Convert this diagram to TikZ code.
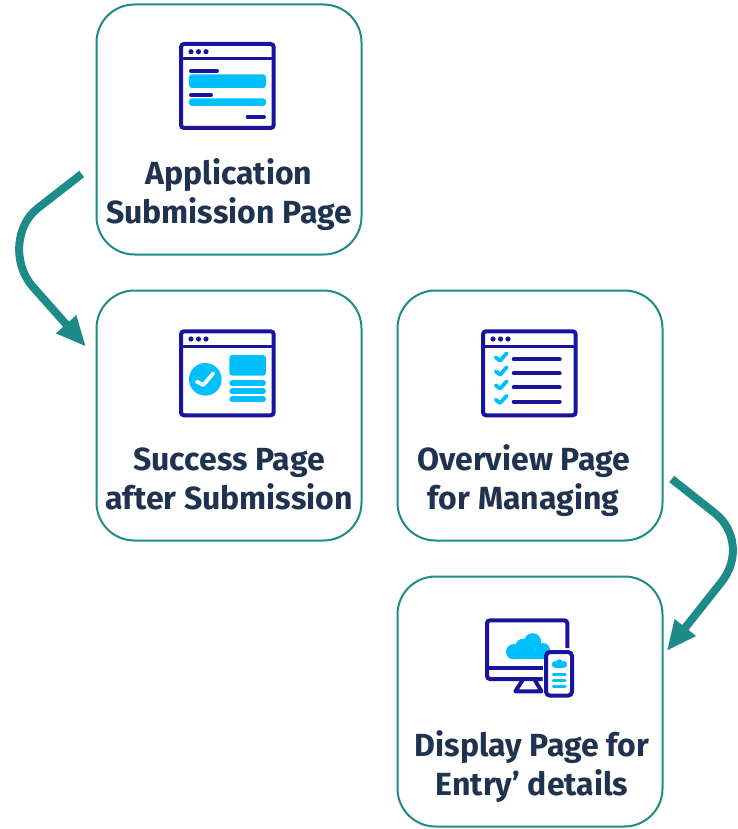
\documentclass[tikz,border=0pt]{standalone}
\usepackage{xcolor}
\usepackage{fontspec}
\setmainfont{Fira Sans}
\usetikzlibrary{arrows.meta,calc}

\definecolor{tealline}{HTML}{1D8C88}
\definecolor{navyline}{HTML}{1A139B}
\definecolor{skyfill}{HTML}{00BFFF}
\definecolor{inktext}{HTML}{1F3350}

% browser window outline
\newcommand{\browserframe}{%
	\draw[navyline, line width=4pt, rounded corners=3pt] (2,2) rectangle (94.7,86);
	\draw[navyline, line width=3pt] (2,17) -- (94.7,17);
	\foreach \dotx in {12,19.5,27} {
		\fill[navyline] (\dotx,9.7) circle (2.6);
	}
}

\begin{document}
\begin{tikzpicture}[x=1pt, y=1pt, node distance=286pt]
		\tikzset{box/.style={draw=tealline, line width=2pt, rectangle, rounded corners=38pt, minimum width=265pt, minimum height=250pt, inner sep=0pt}}
		\tikzset{caption/.style={text=inktext, align=center, font=\fontsize{32}{39}\selectfont\bfseries}}
		\tikzset{arrow/.style={draw=tealline, line width=8pt, -{Triangle[length=30pt,width=25pt]}}}
		\tikzset{darkbar/.style={navyline, line width=4pt, line cap=round}}
		\tikzset{skybar/.style={skyfill, line width=6pt, line cap=round}}
		\tikzset{skytick/.style={skyfill, line width=3.8pt, line cap=round}}

		\useasboundingbox (0,0) rectangle (737,-829);

		% Boxes
		\node[box] (applbox) at (229,-129.5) {};
		\node[box, below of =applbox] (successbox) {};
		\node[box, right of =successbox, node distance = 301pt] (overviewbox) {};
		\node[box, below of =overviewbox] (displaybox) {};

		% Captions
		\node[caption, below of =applbox, node distance = 65pt] (appllabel) {Application \\ Submission Page};
		\node[caption, below of =successbox, node distance = 63pt] (successlabel) {Success Page \\ after Submission};
		\node[caption, below of =overviewbox, xshift=-6.5pt, node distance = 65pt] (overviewlabel) {Overview Page \\ for Managing};
		\node[caption, below of =displaybox, xshift=2pt, node distance = 65pt] (displaylabel) {Display Page for \\ Entry’ details};

		% Application icon
		\begin{scope}[shift={(179,-42)}, yscale=-1]
			\browserframe
			\draw[darkbar] (12,29) -- (38,29);
			\fill[skyfill, rounded corners=3pt] (10,32.3) rectangle (87,46);
			\draw[darkbar] (12,53) -- (32,53);
			\fill[skyfill, rounded corners=3pt] (10,56.3) rectangle (87,64);
			\draw[darkbar] (68.7,75) -- (85,75);
		\end{scope}

		% Success icon
		\begin{scope}[shift={(179,-329.3)}, yscale=-1]
			\browserframe
			\fill[skyfill] (26.3,50) circle (16.3);
			\draw[white, line width=3.8pt, line cap=round, line join=round] (17.7,52.4) -- (24.3,55.7) -- (34.3,44);
			\fill[skyfill, rounded corners=3pt] (50.3,25.7) rectangle (87,46.4);
			\foreach \rowy in {54,62,70} {
				\draw[skybar] (53.3,\rowy) -- (84,\rowy);
			}
		\end{scope}

		% Overview icon
		\begin{scope}[shift={(481,-329.3)}, yscale=-1]
			\browserframe
			\foreach \rowy in {30,44,58,72.4} {
				\draw[skytick, line join=round] (14.7,\rowy-2) -- (19,\rowy+1.4) -- (25.7,\rowy-6);
				\draw[darkbar] (32.7,\rowy) -- (78.7,\rowy);
			}
		\end{scope}

		% Display icon
		\begin{scope}[shift={(485,-618.3)}, yscale=-1]
			\fill[skyfill] (28.7,33.4) circle (7.7);
			\fill[skyfill] (38.3,28.4) circle (8);
			\fill[skyfill] (47.7,23.4) circle (8.5);
			\fill[skyfill] (58,31.7) circle (7);
			\fill[skyfill] (28.7,31.7) rectangle (62,41.1);
			\draw[navyline, line width=4pt, rounded corners=3pt] (82.3,29.7) -- (82.3,2) -- (2,2) -- (2,60.7) -- (57.7,60.7);
			\draw[navyline, line width=4pt] (2,50) -- (57.7,50);
			\draw[navyline, line width=4pt, line join=round] (37.5,62) -- (30.3,73) -- (56.5,73) -- (50,62);
			\draw[navyline, line width=4pt, fill=white, rounded corners=4pt] (61,33.7) rectangle (87,77.4);
			\fill[skyfill] (70,46) circle (3.2);
			\fill[skyfill] (74.5,44.6) circle (3.6);
			\fill[skyfill] (79,46) circle (3.2);
			\fill[skyfill] (70,46) rectangle (79,49.2);
			\foreach \rowy in {56,62.4,68.4} {
				\draw[skyfill, line width=3.5pt, line cap=round] (68.5,\rowy) -- (80,\rowy);
			}
		\end{scope}

		% Arrows
		\coordinate (applout) at ($(applbox.center)+(-147.3,-44.5)$);
		\coordinate (successin) at ($(successbox.center)+(-143,68.8)$);
		\draw [arrow] (applout) -- ($(applbox.center)+(-191,-78.5)$)
			.. controls ($(applbox.center)+(-213.9,-96.2)$) and ($(applbox.center)+(-216.4,-134.5)$) .. ($(applbox.center)+(-196,-157.5)$)
			-- (successin);

		\coordinate (overviewout) at ($(overviewbox.center)+(141.7,-63.5)$);
		\coordinate (displayin) at ($(displaybox.center)+(136.7,50.5)$);
		\draw [arrow] (overviewout) -- ($(overviewbox.center)+(185,-97.8)$)
			.. controls ($(overviewbox.center)+(206,-114.4)$) and ($(overviewbox.center)+(208.9,-144.5)$) .. ($(overviewbox.center)+(191.7,-166.2)$)
			-- (displayin);

	\end{tikzpicture}
\end{document}
